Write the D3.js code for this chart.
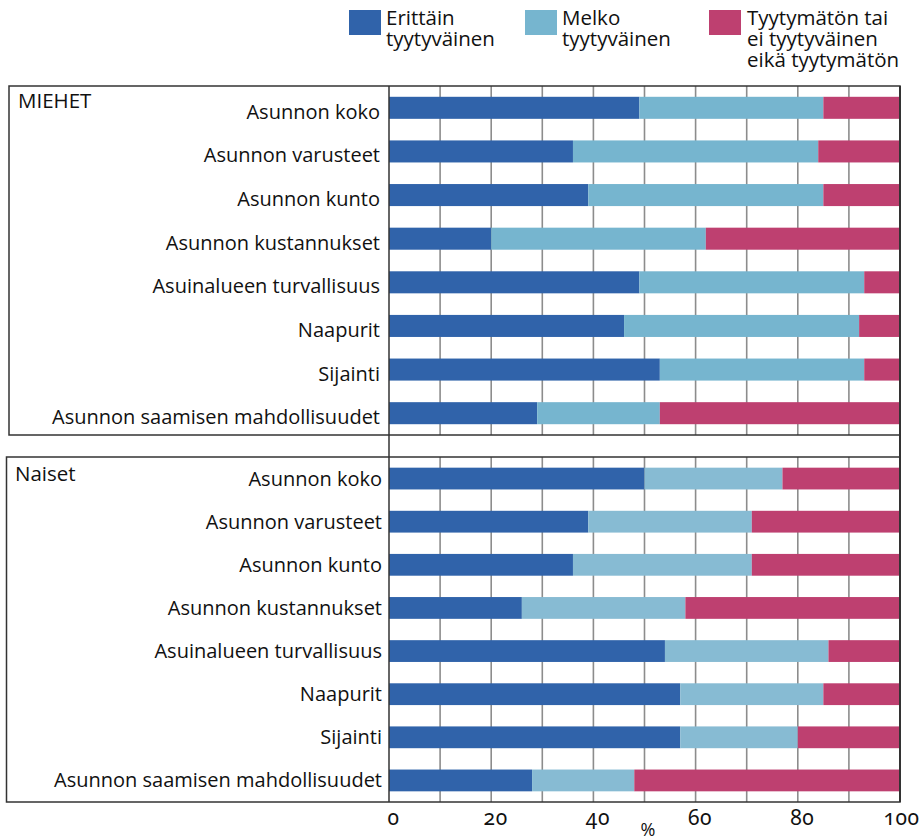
<!DOCTYPE html>
<html>
<head>
<meta charset="utf-8">
<script src="https://cdn.jsdelivr.net/npm/d3@7"></script>
<style>
  html, body { margin: 0; padding: 0; background: #fff; }
  svg text { font-family: "Open Sans", "DejaVu Sans", sans-serif; fill: #111; }
  .tick-label { font-variant-numeric: oldstyle-nums; font-feature-settings: "onum" 1; }
</style>
</head>
<body>
<svg id="chart" width="921" height="840"></svg>
<script>
// Satisfaction with housing, by item and gender (%)
const categories = [
  "Asunnon koko",
  "Asunnon varusteet",
  "Asunnon kunto",
  "Asunnon kustannukset",
  "Asuinalueen turvallisuus",
  "Naapurit",
  "Sijainti",
  "Asunnon saamisen mahdollisuudet"
];

const seriesNames = [
  ["Erittäin", "tyytyväinen"],
  ["Melko", "tyytyväinen"],
  ["Tyytymätön tai", "ei tyytyväinen", "eikä tyytymätön"]
];

const menVery      = [49, 36, 39, 20, 49, 46, 53, 29];
const menFairly    = [36, 48, 46, 42, 44, 46, 40, 24];
const menNot       = [15, 16, 15, 38,  7,  8,  7, 47];

const womenVery    = [50, 39, 36, 26, 54, 57, 57, 28];
const womenFairly  = [27, 32, 35, 32, 32, 28, 23, 20];
const womenNot     = [23, 29, 29, 42, 14, 15, 20, 52];

const tickValues = [0, 20, 40, 60, 80, 100];
const gridValues = [10, 20, 30, 40, 50, 60, 70, 80, 90];

const panels = [
  { title: "MIEHET", series: [menVery, menFairly, menNot],
    top: 86, bottom: 435, left: 9, labelX: 380, titleX: 18, titleY: 108, labelDy: 11,
    colors: ["#3063aa", "#76b5cf", "#be4070"] },
  { title: "Naiset", series: [womenVery, womenFairly, womenNot],
    top: 457, bottom: 802, left: 6.5, labelX: 382, titleX: 15, titleY: 481, labelDy: 7,
    colors: ["#3063aa", "#87bbd3", "#be4070"] }
];

const legendColors = ["#3063aa", "#76b5cf", "#be4070"];

const svg = d3.select("#chart");
const x = d3.scaleLinear().domain([0, 100]).range([389, 900]);

panels.forEach(p => {
  const g = svg.append("g");
  const y = d3.scaleBand()
    .domain(categories)
    .range([p.top, p.bottom])
    .paddingInner(0.495)
    .paddingOuter(0.2475);

  // vertical gridlines
  g.append("g")
    .selectAll("line")
    .data(gridValues)
    .join("line")
    .attr("x1", d => x(d)).attr("x2", d => x(d))
    .attr("y1", p.top).attr("y2", p.bottom)
    .attr("stroke", "#8c8c8c")
    .attr("stroke-width", 1.6);

  // stacked bars
  const rows = categories.map((c, i) => {
    let acc = 0;
    return p.series.map((s, k) => {
      const seg = { cat: c, k, x0: acc, x1: acc + s[i] };
      acc += s[i];
      return seg;
    });
  }).flat();

  g.append("g")
    .selectAll("rect")
    .data(rows)
    .join("rect")
    .attr("x", d => x(d.x0))
    .attr("width", d => x(d.x1) - x(d.x0))
    .attr("y", d => y(d.cat))
    .attr("height", y.bandwidth())
    .attr("fill", d => p.colors[d.k]);

  // panel frame
  g.append("rect")
    .attr("x", p.left).attr("y", p.top)
    .attr("width", 900 - p.left).attr("height", p.bottom - p.top)
    .attr("fill", "none")
    .attr("stroke", "#333")
    .attr("stroke-width", 1.5);

  // category labels
  g.append("g")
    .selectAll("text")
    .data(categories)
    .join("text")
    .attr("x", p.labelX)
    .attr("y", d => y(d) + y.bandwidth() / 2 + p.labelDy)
    .attr("text-anchor", "end")
    .style("font-size", "20px")
    .text(d => d);

  g.append("text")
    .attr("x", p.titleX)
    .attr("y", p.titleY)
    .style("font-size", "20.5px")
    .text(p.title);
});

// value axis line and right edge running through both panels
svg.append("line")
  .attr("x1", x(0)).attr("x2", x(0))
  .attr("y1", 86).attr("y2", 802)
  .attr("stroke", "#333").attr("stroke-width", 1.5);
svg.append("line")
  .attr("x1", x(100)).attr("x2", x(100))
  .attr("y1", 86).attr("y2", 802)
  .attr("stroke", "#333").attr("stroke-width", 2);

// bottom axis labels
const axis = d3.axisBottom(x).tickValues(tickValues).tickSize(0).tickPadding(0);
const axG = svg.append("g")
  .attr("transform", "translate(0,812)")
  .call(axis);
axG.select(".domain").remove();
axG.selectAll("text")
  .attr("class", "tick-label")
  .attr("dy", 0)
  .attr("dx", d => (d === 100 ? 1 : 4))
  .attr("y", 13)
  .style("font-size", "21px")
  .style("font-family", "'Noto Sans', 'Open Sans', sans-serif")
  .style("letter-spacing", "0.6px")
  .attr("fill", "#111");

svg.append("text")
  .attr("x", 648).attr("y", 836)
  .attr("text-anchor", "middle")
  .style("font-size", "18px")
  .text("%");

// legend: one swatch and a short stack of lines per series
const legendX = [349, 525, 709];
const lg = svg.append("g");
seriesNames.forEach((lines, i) => {
  lg.append("rect")
    .attr("x", legendX[i]).attr("y", 10)
    .attr("width", 32).attr("height", 25)
    .attr("fill", legendColors[i]);
  lines.forEach((ln, j) => {
    lg.append("text")
      .attr("x", legendX[i] + (i === 2 ? 38 : 37))
      .attr("y", 25 + j * 20.8)
      .style("font-size", "20.5px")
      .text(ln);
  });
});
</script>
</body>
</html>
